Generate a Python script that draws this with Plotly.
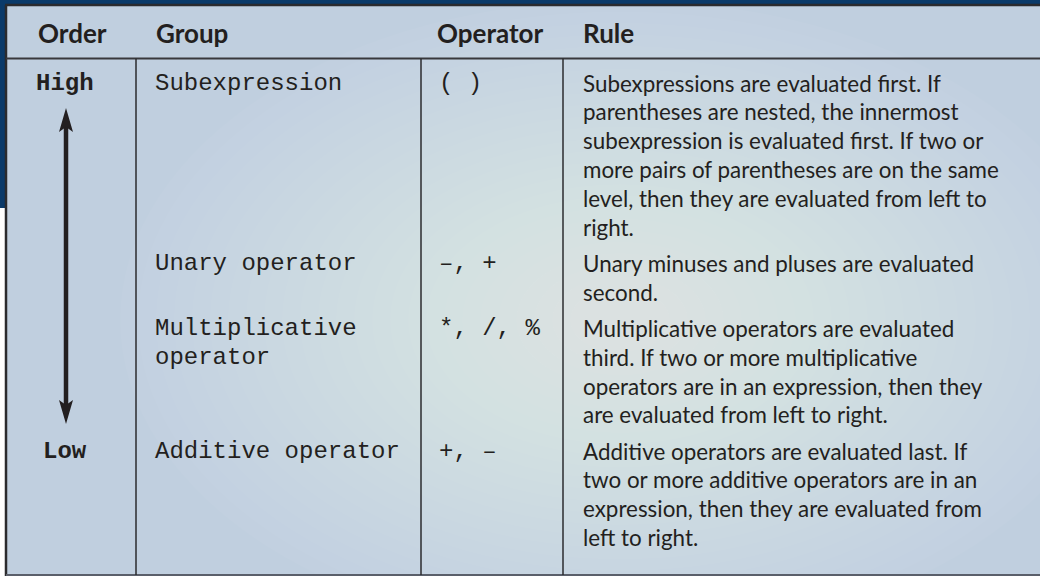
import plotly.graph_objects as go

# ---------------- data ----------------
headers = ["Order", "Group", "Operator", "Rule"]
orders = ["High", "", "", "Low"]
groups = [["Subexpression"], ["Unary operator"], ["Multiplicative", "operator"], ["Additive operator"]]
operators = ["( )", "\u2013, +", "*, /, %", "+, \u2013"]
rules = [
    ["Subexpressions are evaluated first. If",
     "parentheses are nested, the innermost",
     "subexpression is evaluated first. If two or",
     "more pairs of parentheses are on the same",
     "level, then they are evaluated from left to",
     "right."],
    ["Unary minuses and pluses are evaluated",
     "second."],
    ["Multiplicative operators are evaluated",
     "third. If two or more multiplicative",
     "operators are in an expression, then they",
     "are evaluated from left to right."],
    ["Additive operators are evaluated last. If",
     "two or more additive operators are in an",
     "expression, then they are evaluated from",
     "left to right."],
]

# ---------------- layout constants ----------------
W, H = 1040, 576
col_x = [65, 153, 437, 581]          # text anchor per column
div_x = [136, 421, 563]              # column dividers
top_y, head_sep_y, bottom_y, left_x = 5, 58.5, 575, 6
header_y = 33
first_y, line_h, row_gap = 83, 28.8, 7.5

TXT = "#231f20"
SANS = "Lato, 'Open Sans', sans-serif"
MONO = "'Liberation Mono', 'Courier New', monospace"

fig = go.Figure()
fig.add_trace(go.Scatter(x=[0, W], y=[0, H], mode="markers",
                         marker=dict(opacity=0), hoverinfo="skip", showlegend=False))

shapes = []
# radial-ish background glow
base = "#c0cfdf"
cx, cy = 620, 320
n_layers = 26
for i in range(n_layers):
    rx = 500 - i * 18
    ry = 320 - i * 11.5
    shapes.append(dict(type="circle", xref="x", yref="y", layer="below",
                       x0=cx - rx, x1=cx + rx, y0=cy - ry, y1=cy + ry,
                       fillcolor="rgba(255,255,255,0.03)", line=dict(width=0)))
# blue backdrop and white strip
shapes.append(dict(type="rect", xref="x", yref="y", layer="below",
                   x0=0, x1=W, y0=0, y1=top_y - 1, fillcolor="#0b3a69", line=dict(width=0)))
shapes.append(dict(type="rect", xref="x", yref="y", layer="below",
                   x0=0, x1=left_x - 1, y0=0, y1=208, fillcolor="#0b3a69", line=dict(width=0)))
shapes.append(dict(type="rect", xref="x", yref="y", layer="below",
                   x0=0, x1=left_x - 1, y0=208, y1=H, fillcolor="#ffffff", line=dict(width=0)))
# borders
shapes.append(dict(type="line", xref="x", yref="y", x0=left_x - 1, x1=W, y0=top_y, y1=top_y,
                   line=dict(color="#2b2b2e", width=2.5)))
shapes.append(dict(type="line", xref="x", yref="y", x0=left_x, x1=left_x, y0=top_y, y1=H,
                   line=dict(color="#2b2b2e", width=2.5)))
shapes.append(dict(type="line", xref="x", yref="y", x0=left_x, x1=W, y0=head_sep_y, y1=head_sep_y,
                   line=dict(color="#38383c", width=2)))
shapes.append(dict(type="line", xref="x", yref="y", x0=left_x, x1=W, y0=bottom_y, y1=bottom_y,
                   line=dict(color="#5a5f6a", width=2)))
for dx in div_x:
    shapes.append(dict(type="line", xref="x", yref="y", x0=dx, x1=dx, y0=head_sep_y, y1=bottom_y,
                       line=dict(color="#2b2b2e", width=1.5)))

annotations = []
for hx, h in zip([36, 154, 435, 581], headers):
    annotations.append(dict(x=hx, y=header_y, xref="x", yref="y", text=h, showarrow=False,
                            xanchor="left", yanchor="middle",
                            font=dict(family=SANS, size=26, color=TXT, weight="bold")))

row_starts = []
y = first_y
for i in range(len(rules)):
    row_starts.append(y)
    for k, line in enumerate(rules[i]):
        annotations.append(dict(x=col_x[3], y=y + k * line_h, xref="x", yref="y", text=line,
                                showarrow=False, xanchor="left", yanchor="middle",
                                font=dict(family=SANS, size=22.4, color=TXT)))
    for k, g in enumerate(groups[i]):
        annotations.append(dict(x=col_x[1], y=y + k * line_h, xref="x", yref="y", text=g,
                                showarrow=False, xanchor="left", yanchor="middle",
                                font=dict(family=MONO, size=24, color=TXT)))
    annotations.append(dict(x=col_x[2], y=y, xref="x", yref="y", text=operators[i],
                            showarrow=False, xanchor="left", yanchor="middle",
                            font=dict(family=MONO, size=24, color=TXT)))
    if orders[i]:
        annotations.append(dict(x=col_x[0], y=y, xref="x", yref="y", text=orders[i],
                                showarrow=False, xanchor="center", yanchor="middle",
                                font=dict(family=MONO, size=24, color=TXT, weight="bold")))
    y = y + len(rules[i]) * line_h + row_gap

# double-headed arrow between High and Low
ax = 66
top_tip = row_starts[0] + 25
bot_tip = row_starts[-1] - 27
head_l, head_w = 24, 7
shapes.append(dict(type="line", xref="x", yref="y", x0=ax, x1=ax, y0=top_tip + 15, y1=bot_tip - 15,
                   line=dict(color="#231f20", width=4.5)))
shapes.append(dict(type="path", xref="x", yref="y",
                   path=f"M {ax},{top_tip} L {ax + head_w},{top_tip + head_l} L {ax},{top_tip + head_l - 5} "
                        f"L {ax - head_w},{top_tip + head_l} Z",
                   fillcolor="#231f20", line=dict(width=0)))
shapes.append(dict(type="path", xref="x", yref="y",
                   path=f"M {ax},{bot_tip} L {ax + head_w},{bot_tip - head_l} L {ax},{bot_tip - head_l + 5} "
                        f"L {ax - head_w},{bot_tip - head_l} Z",
                   fillcolor="#231f20", line=dict(width=0)))

fig.update_layout(
    width=W, height=H, margin=dict(l=0, r=0, t=0, b=0),
    paper_bgcolor=base, plot_bgcolor=base,
    xaxis=dict(range=[0, W], visible=False, fixedrange=True),
    yaxis=dict(range=[H, 0], visible=False, fixedrange=True),
    shapes=shapes, annotations=annotations, showlegend=False, hovermode=False,
)
fig.write_html("out.html", config={"displayModeBar": False},
               post_script="document.body.style.margin='0';document.body.style.overflow='hidden';")
